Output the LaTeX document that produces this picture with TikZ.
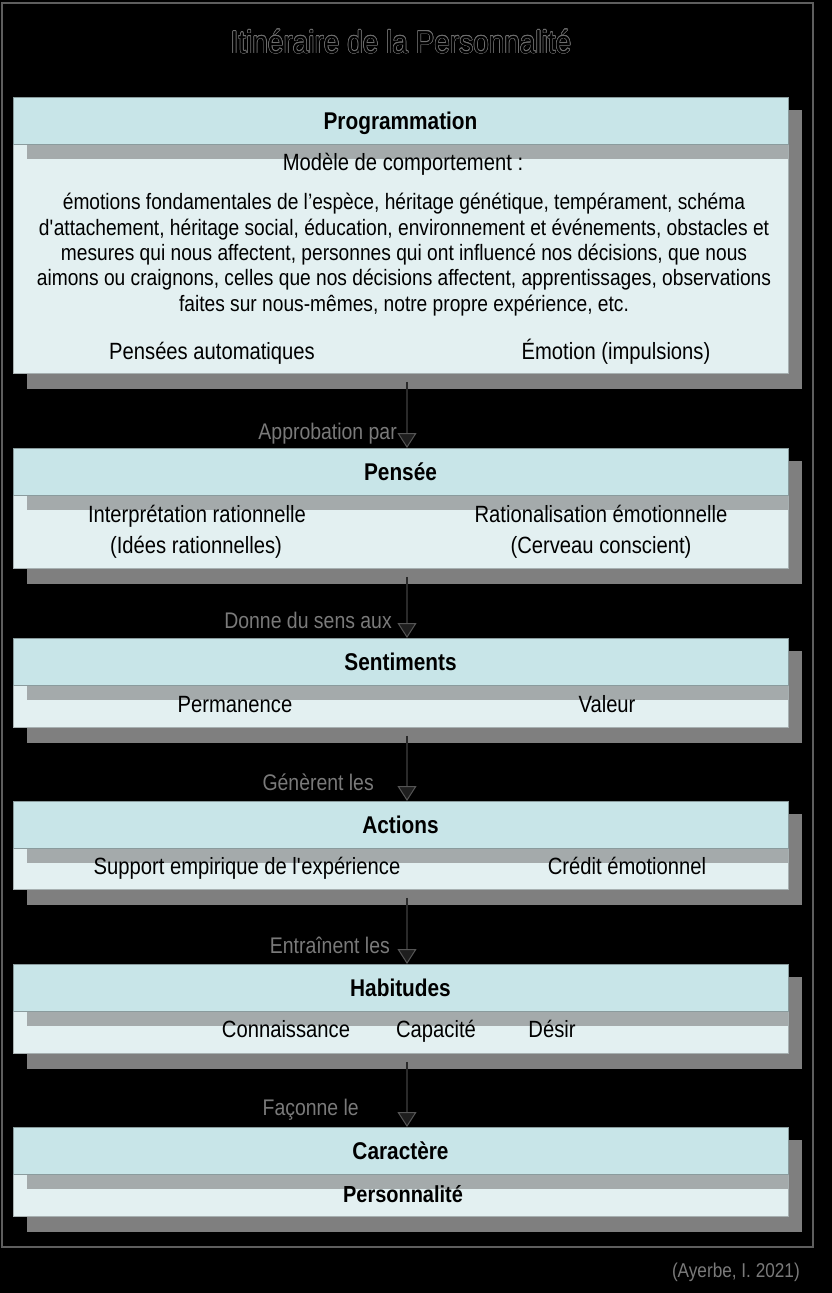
\documentclass[tikz,border=0pt]{standalone}
\usepackage{fontspec}
\setmainfont{Liberation Sans}[FakeStretch=0.86]
\newfontfamily\titlefont{Liberation Sans}[FakeStretch=0.88]
\usepackage{contour}
\usetikzlibrary{arrows.meta}
\definecolor{headfill}{HTML}{C8E5E8}
\definecolor{headline}{HTML}{8A9B9D}
\definecolor{bodyfill}{HTML}{E3F0F1}
\definecolor{bodyline}{HTML}{A7B0B1}
\definecolor{shadowgray}{HTML}{7F7F7F}
\definecolor{stripgray}{HTML}{A4AAAB}
\definecolor{arrowline}{HTML}{2A2A2A}
\definecolor{arrowfill}{HTML}{1E1E1E}
\definecolor{tipline}{HTML}{555555}
\definecolor{lblgray}{HTML}{7A7A7A}
\definecolor{titlegray}{HTML}{6E6E6E}
\definecolor{framegray}{HTML}{5E5E5E}
\contourlength{0.55pt}

\begin{document}
\begin{tikzpicture}[x=1pt,y=-1pt,
    headbox/.style={draw=headline, fill=headfill, line width=1pt, minimum width=775pt,
      minimum height=47pt, inner sep=0pt, text height=16pt, text depth=0pt,
      font=\fontsize{24.2}{28}\selectfont\bfseries},
    bodybox/.style={draw=bodyline, fill=bodyfill, line width=0.8pt, minimum width=775pt, inner sep=0pt},
    txt/.style={font=\fontsize{23.5}{27}\selectfont, inner sep=0pt, anchor=base},
    lbl/.style={font=\fontsize{22.6}{26}\selectfont, text=lblgray, inner sep=0pt, anchor=base east},
    flow/.style={line width=2.6pt, draw=arrowline,
      -{Triangle[width=19pt,length=15pt,color=tipline,fill=arrowfill,line width=1pt]}}]
  % Background and frame
  \fill[black] (0,0) rectangle (832,1293);
  \useasboundingbox (0,0) rectangle (832,1293);
  \draw[framegray, line width=1.5pt] (2,3) rectangle (813,1247);
  % Title
  \node[font=\titlefont\fontsize{31.8}{36}\selectfont, text=black] (title) at (401,42)
    {\contour{titlegray}{Itinéraire de la Personnalité}};
  % Boxes
  \foreach \nm/\t/\b/\title in {prog/97/373/Programmation, pensee/448/568/Pensée,
      sent/638/727/Sentiments, act/801/889/Actions, hab/964/1053/Habitudes,
      car/1127/1216/Caractère} {
    \pgfmathsetmacro\bh{\b-\t-47}
    \fill[shadowgray] (27,{\t+13}) rectangle (802,{\b+16});
    \node[bodybox, minimum height=\bh pt, anchor=north] (\nm-b) at (400.5,{\t+47}) {};
    \fill[stripgray] (27,{\t+47}) rectangle (788,{\t+62});
    \node[headbox, anchor=north] (\nm) at (400.5,\t) {\title};
  }
  % Programmation
  \node[txt] (modele) at (403,170) {Modèle de comportement :};
  \node[font=\fontsize{22.3}{25.3}\selectfont, inner sep=0pt, align=center] (liste) at (404,254.5)
    {émotions fondamentales de l’espèce, héritage génétique, tempérament, schéma\\
    d\textquotesingle attachement, héritage social, éducation, environnement et événements, obstacles et\\
    mesures qui nous affectent, personnes qui ont influencé nos décisions, que nous\\
    aimons ou craignons, celles que nos décisions affectent, apprentissages, observations\\
    faites sur nous-mêmes, notre propre expérience, etc.};
  \node[txt] (auto) at (212,359) {Pensées automatiques};
  \node[txt] (emo) at (616,359) {Émotion (impulsions)};
  % Pensée
  \node[txt] (interp) at (197,522) {Interprétation rationnelle};
  \node[txt] (idees) at (196,553) {(Idées rationnelles)};
  \node[txt] (ratio) at (601,522) {Rationalisation émotionnelle};
  \node[txt] (cerveau) at (601,553) {(Cerveau conscient)};
  % Sentiments
  \node[txt] (perm) at (235,712) {Permanence};
  \node[txt] (val) at (607,712) {Valeur};
  % Actions
  \node[txt] (supp) at (247,874) {Support empirique de l\textquotesingle expérience};
  \node[txt] (cred) at (627,874) {Crédit émotionnel};
  % Habitudes
  \node[txt] (conn) at (286,1037) {Connaissance};
  \node[txt] (capa) at (436,1037) {Capacité};
  \node[txt] (desir) at (552,1037) {Désir};
  % Caractère
  \node[txt, font=\fontsize{23.2}{27}\selectfont\bfseries] (perso) at (403,1202) {Personnalité};
  % Arrows and labels
  \foreach \a/\b/\lab/\lx/\ly in {prog/pensee/Approbation par/397/439,
      pensee/sent/Donne du sens aux/392/628, sent/act/Génèrent les/374/790,
      act/hab/Entraînent les/390/953, hab/car/Façonne le/359/1115} {
    \draw[flow] ([xshift=6.5pt,yshift=-8pt]\a-b.south) -- ([xshift=6.5pt]\b.north);
    \node[lbl] (\b-l) at (\lx,\ly) {\lab};
  }
  % Source
  \node[font=\fontsize{20}{24}\selectfont, text=lblgray, anchor=base east, inner sep=0pt] (source)
    at (800,1277) {(Ayerbe, I. 2021)};
\end{tikzpicture}
\end{document}
